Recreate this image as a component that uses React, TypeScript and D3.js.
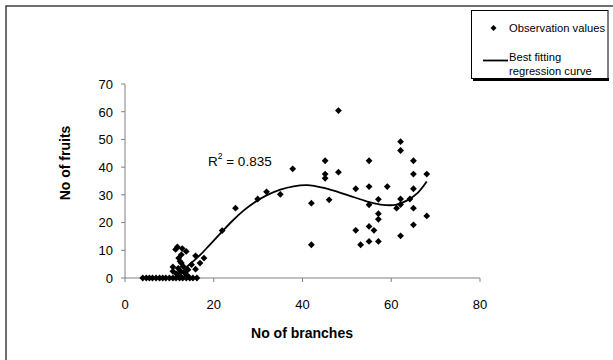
import React from "react";
import * as d3 from "d3";

const xTicks = [0, 20, 40, 60, 80];
const yTicks = [0, 10, 20, 30, 40, 50, 60, 70];

// Observation values [branches, fruits]
const zeroX = [4, 4.8, 5.5, 6.2, 7, 7.8, 8.5, 9.2, 10, 10.8, 11.5, 12.3, 13, 13.8, 14.6, 15.3, 16.2];
const lowCluster: [number, number][] = [
  [10.8, 4], [10.8, 2.4], [11.8, 11.2], [12.9, 10.6], [13.8, 9.6], [11.4, 10.3],
  [12.1, 7.2], [12.7, 8.4], [12.7, 5.4], [13.1, 4.2], [11.6, 1.5], [12.5, 2.5],
  [13.5, 1.8], [12.2, 1], [14.2, 3], [15.9, 8], [15.9, 3.2], [16.9, 5.4],
  [17.8, 7.2], [12.4, 6], [12, 3.5], [15, 4.8], [14, 1],
];
const midPoints: [number, number][] = [
  [21.9, 17.1], [24.9, 25.2], [29.9, 28.5], [31.9, 31.1], [35, 30.2], [37.8, 39.4],
  [42, 27], [42, 12], [45.1, 42.3], [45.1, 37.5], [45.1, 36], [46, 28.2], [48.1, 60.4], [48.1, 38.2],
  [52, 32.2], [52, 17.2], [53.1, 12], [55, 42.3], [55, 33], [55, 26.4], [55, 18.6], [55, 13.2],
  [56.1, 17.2], [57.1, 28.4], [57.1, 23.2], [57.1, 21.2], [57.1, 13.2], [59.1, 33],
  [61.2, 25.2], [62.1, 49.2], [62.1, 46], [62.1, 28.5], [62.1, 26.5], [62.1, 15.2],
  [64.2, 28.5], [65, 42.3], [65, 37.5], [65, 32.2], [65, 25.2], [65, 19.2],
  [68, 37.5], [68, 22.4],
];
const observations: [number, number][] = [
  ...zeroX.map((x) => [x, 0] as [number, number]),
  ...lowCluster,
  ...midPoints,
];

// Best fitting regression curve
const curvePts: [number, number][] = [
  [12.3, 0.5], [13.5, 3.3], [15, 5.5], [17, 8.4], [19, 11.8], [21.4, 15.9], [24, 20.3],
  [26.7, 24.3], [29, 27.1], [32, 29.9], [35, 31.9], [38, 33.1], [41, 33.5], [44.8, 32.5],
  [50, 30], [54.6, 27.6], [57.6, 26.5], [61, 26.4], [63.6, 28], [65.9, 30.6], [68, 34.8],
];

const FONT = "Arial, 'Liberation Sans', sans-serif";

export default function App() {
  const W = 613;
  const H = 360;
  const x = d3.scaleLinear().domain([0, 80]).range([125, 480]);
  const y = d3.scaleLinear().domain([0, 70]).range([278, 84]);
  const line = d3
    .line<[number, number]>()
    .x((d) => x(d[0]))
    .y((d) => y(d[1]))
    .curve(d3.curveCatmullRom.alpha(0.5));
  const diamond = (cx: number, cy: number, r: number) =>
    `M${cx},${cy - r}L${cx + r},${cy}L${cx},${cy + r}L${cx - r},${cy}Z`;

  return (
    <svg
      width={W}
      height={H}
      style={{ position: "absolute", left: 0, top: 0, background: "#fff" }}
      fontFamily={FONT}
    >
      {/* outer frame */}
      <rect x={6} y={6} width={W + 10} height={H + 10} fill="none" stroke="#222" strokeWidth={1.3} />

      {/* axes */}
      <line x1={x(0)} x2={x(80)} y1={y(0)} y2={y(0)} stroke="#808080" strokeWidth={1} />
      <line x1={x(0)} x2={x(0)} y1={y(0)} y2={y(70)} stroke="#808080" strokeWidth={1} />
      {xTicks.map((t) => (
        <g key={"x" + t}>
          <line x1={x(t)} x2={x(t)} y1={y(0)} y2={y(0) + 4} stroke="#808080" />
          <text x={x(t)} y={309} textAnchor="middle" fontSize={13} fill="#000">
            {t}
          </text>
        </g>
      ))}
      {yTicks.map((t) => (
        <g key={"y" + t}>
          <line x1={x(0) - 4} x2={x(0)} y1={y(t)} y2={y(t)} stroke="#808080" />
          <text x={113} y={y(t) + 4.8} textAnchor="end" fontSize={13} fill="#000">
            {t}
          </text>
        </g>
      ))}

      {/* axis titles */}
      <text x={302} y={338} textAnchor="middle" fontSize={14} fontWeight="bold" fill="#000">
        No of branches
      </text>
      <text
        transform="translate(70,163) rotate(-90)"
        textAnchor="middle"
        fontSize={14}
        fontWeight="bold"
        fill="#000"
      >
        No of fruits
      </text>

      {/* observations */}
      {observations.map((d, i) => (
        <path key={i} d={diamond(x(d[0]), y(d[1]), 3.4)} fill="#000" />
      ))}

      {/* regression curve */}
      <path d={line(curvePts) ?? ""} fill="none" stroke="#000" strokeWidth={1.8} />

      {/* R^2 label */}
      <text x={208} y={166} fontSize={13.5} fill="#000">
        R
        <tspan dy={-7} fontSize={8.5}>2</tspan>
        <tspan dy={7}> = 0.835</tspan>
      </text>

      {/* legend */}
      <rect x={473} y={78} width={136} height={3} fill="#000" />
      <rect x={471.5} y={10.5} width={136.5} height={68} fill="#fff" stroke="#000" strokeWidth={1} />
      <path d={diamond(493.5, 28, 3)} fill="#000" />
      <text x={509} y={32} fontSize={11.2} fill="#000" textLength={96} lengthAdjust="spacingAndGlyphs">
        Observation values
      </text>
      <line x1={483} x2={508} y1={60.5} y2={60.5} stroke="#000" strokeWidth={1.8} />
      <text x={509} y={61} fontSize={11.2} fill="#000">
        Best fitting
      </text>
      <text x={509} y={75} fontSize={11.2} fill="#000">
        regression curve
      </text>
    </svg>
  );
}
